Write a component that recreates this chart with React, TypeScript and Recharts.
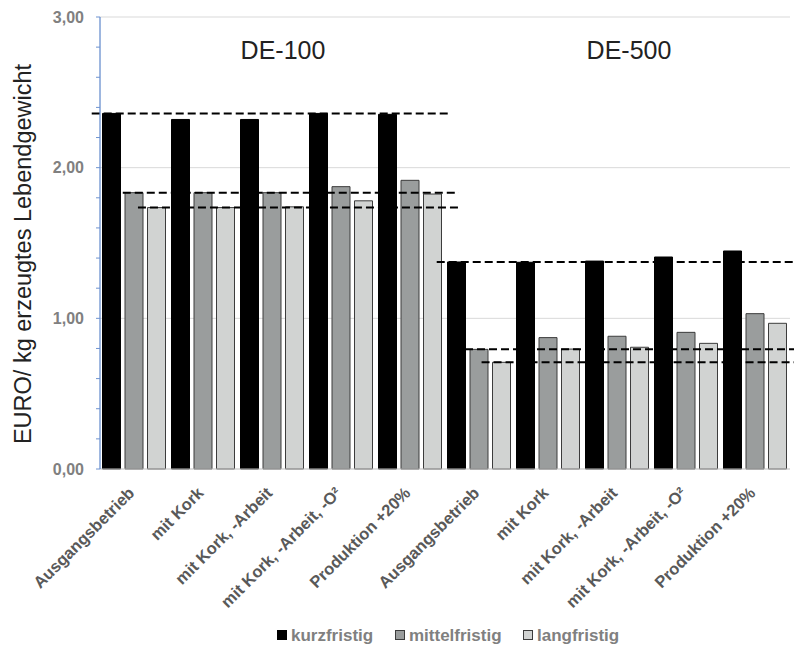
import React from 'react';
import { BarChart, Bar, XAxis, YAxis, CartesianGrid, ReferenceLine, Customized } from 'recharts';

const scenarios = [
  'Ausgangsbetrieb',
  'mit Kork',
  'mit Kork, -Arbeit',
  'mit Kork, -Arbeit, -O²',
  'Produktion +20%',
];
const farms = ['DE-100', 'DE-500'];

// EURO per kg live weight, DE-100 scenarios first, then DE-500
const kurzfristig = [2.36, 2.32, 2.32, 2.36, 2.354, 1.374, 1.372, 1.38, 1.407, 1.447];
const mittelfristig = [1.834, 1.834, 1.834, 1.874, 1.916, 0.794, 0.872, 0.881, 0.907, 1.031];
const langfristig = [1.735, 1.735, 1.74, 1.78, 1.825, 0.708, 0.796, 0.808, 0.834, 0.967];

const yTicks = [0, 0.2, 0.4, 0.6, 0.8, 1, 1.2, 1.4, 1.6, 1.8, 2, 2.2, 2.4, 2.6, 2.8, 3];
const gridValues = [1, 2, 3];

const series = [
  { key: 'kurzfristig', values: kurzfristig, fill: '#000000', stroke: '#000000' },
  { key: 'mittelfristig', values: mittelfristig, fill: '#9a9d9d', stroke: '#3c3c3c' },
  { key: 'langfristig', values: langfristig, fill: '#d1d3d2', stroke: '#3c3c3c' },
];

// dashed baselines at the Ausgangsbetrieb level of each farm (x in group units)
const baselineSpans = [
  { farm: 0, series: 0, from: -0.12, to: 5.07 },
  { farm: 0, series: 1, from: 0.33, to: 5.2 },
  { farm: 0, series: 2, from: 0.55, to: 5.19 },
  { farm: 1, series: 0, from: 4.88, to: 10.1 },
  { farm: 1, series: 1, from: 5.29, to: 10.1 },
  { farm: 1, series: 2, from: 5.53, to: 10.1 },
];

const data = farms.flatMap((farm, f) =>
  scenarios.map((s, i) => {
    const idx = f * scenarios.length + i;
    return {
      idx,
      pos: idx + 0.5,
      label: s,
      kurzfristig: kurzfristig[idx],
      mittelfristig: mittelfristig[idx],
      langfristig: langfristig[idx],
    };
  })
);

const FONT = '"Liberation Sans", Arial, sans-serif';

const YTick = (props: any) => {
  const { x, y, payload } = props;
  const v = payload.value as number;
  if (Math.abs(v - Math.round(v)) > 1e-6) return <g />;
  return (
    <text x={x} y={y} dy="0.36em" textAnchor="end" fontFamily={FONT} fontSize={16} fontWeight="bold" fill="#808080">
      {v.toFixed(2).replace('.', ',')}
    </text>
  );
};

const XTick = (props: any) => {
  const { x, y, payload } = props;
  const text = data[payload.value]?.label ?? '';
  return (
    <text
      x={0}
      y={0}
      transform={`translate(${x + 1},${y + 25}) rotate(-45)`}
      textAnchor="end"
      fontFamily={FONT}
      fontSize={16.5}
      fontWeight="bold"
      fill="#595959"
    >
      {text}
    </text>
  );
};

const legendItems = [
  { name: 'kurzfristig', x: 277, fill: '#000000', stroke: '#000000' },
  { name: 'mittelfristig', x: 395, fill: '#9a9d9d', stroke: '#3c3c3c' },
  { name: 'langfristig', x: 523, fill: '#d1d3d2', stroke: '#3c3c3c' },
];

const Overlay = () => (
  <g>
    <text x={283} y={59} textAnchor="middle" fontFamily={FONT} fontSize={25} fill="#222">
      {farms[0]}
    </text>
    <text x={629} y={59} textAnchor="middle" fontFamily={FONT} fontSize={25} fill="#222">
      {farms[1]}
    </text>
    <text
      x={0}
      y={0}
      transform="translate(31,254) rotate(-90)"
      textAnchor="middle"
      fontFamily={FONT}
      fontSize={23.5}
      fill="#222"
    >
      EURO/ kg erzeugtes Lebendgewicht
    </text>
    {legendItems.map((it) => (
      <g key={it.name}>
        <rect x={it.x + 0.5} y={630.5} width={9} height={9} fill={it.fill} stroke={it.stroke} />
        <text x={it.x + 14} y={641} fontFamily={FONT} fontSize={17} fontWeight="bold" fill="#808080">
          {it.name}
        </text>
      </g>
    ))}
  </g>
);

export default function App() {
  return (
    <div style={{ position: 'absolute', left: 0, top: 0, width: 794, height: 645, background: '#fff' }}>
      <BarChart
        width={794}
        height={645}
        data={data}
        margin={{ top: 17, right: 4, bottom: 146, left: 0 }}
        barCategoryGap={2.5}
        barGap={4.5}
      >
        <CartesianGrid vertical={false} horizontalValues={gridValues} stroke="#d9d9d9" />
        <XAxis
          xAxisId="cat"
          dataKey="idx"
          type="category"
          interval={0}
          height={30}
          tickSize={0}
          tickMargin={0}
          tickLine={false}
          axisLine={{ stroke: '#bfbfbf' }}
          tick={<XTick />}
        />
        <XAxis xAxisId="num" dataKey="pos" type="number" domain={[0, 10]} allowDataOverflow hide />
        <YAxis
          width={100}
          domain={[0, 3]}
          ticks={yTicks}
          interval={0}
          tickSize={4}
          tickMargin={12}
          axisLine={{ stroke: '#3d6fc0' }}
          tickLine={{ stroke: '#6f93d0' }}
          tick={<YTick />}
        />
        {series.map((s) => (
          <Bar
            key={s.key}
            xAxisId="cat"
            dataKey={s.key}
            fill={s.fill}
            stroke={s.stroke}
            strokeWidth={1}
            isAnimationActive={false}
          />
        ))}
        {baselineSpans.map((b, i) => {
          const v = series[b.series].values[b.farm * scenarios.length];
          return (
            <ReferenceLine
              key={i}
              xAxisId="num"
              segment={[
                { x: b.from, y: v },
                { x: b.to, y: v },
              ]}
              ifOverflow="visible"
              stroke="#000"
              strokeWidth={2}
              strokeDasharray="8 4"
            />
          );
        })}
        <Customized component={Overlay} />
      </BarChart>
    </div>
  );
}
